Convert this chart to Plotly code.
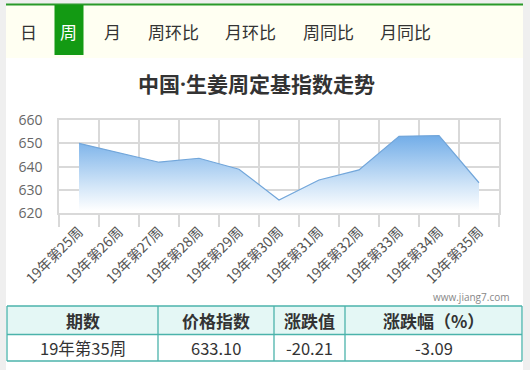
import plotly.graph_objects as go

W, H = 530, 370

tabs = ["日", "周", "月", "周环比", "月环比", "周同比", "月同比"]
tab_x = [28, 68, 112, 173, 250, 328, 405]
active_tab = 1

title_a = "中国"
title_dot = "·"
title_b = "生姜周定基指数走势"
weeks = ["19年第25周", "19年第26周", "19年第27周", "19年第28周", "19年第29周", "19年第30周",
         "19年第31周", "19年第32周", "19年第33周", "19年第34周", "19年第35周"]
values = [650.0, 646.0, 641.9, 643.6, 638.9, 625.7, 634.3, 638.6, 653.0, 653.31, 633.10]
y_ticks = [620, 630, 640, 650, 660]

table_header = ["期数", "价格指数", "涨跌值", "涨跌幅（%）"]
table_row = ["19年第35周", "633.10", "-20.21", "-3.09"]
col_edges = [7, 158, 274, 345, 522]

FONT = "Noto Sans CJK SC"
GRID = "#d9d9d9"

def px(x):
    return x / W

def py(y):
    return 1 - y / H

fig = go.Figure()
fig.add_trace(go.Scatter(
    x=weeks, y=values, mode="lines",
    line=dict(color="#72a6da", width=1.2),
    fill="tozeroy",
    fillgradient=dict(type="vertical", start=621, stop=656,
                      colorscale=[[0, "rgba(255,255,255,1)"], [0.3, "#d3e6f8"], [1, "#66a6e6"]]),
    hoverinfo="skip", showlegend=False,
))

shapes = []
annotations = []

# page background pieces
shapes.append(dict(type="rect", xref="paper", yref="paper", x0=0, x1=1, y0=0, y1=1,
                   fillcolor="#efefef", line_width=0, layer="below"))
shapes.append(dict(type="rect", xref="paper", yref="paper", x0=px(6), x1=px(523), y0=0, y1=py(4),
                   fillcolor="#ffffff", line_width=0, layer="below"))
# tab bar
shapes.append(dict(type="rect", xref="paper", yref="paper", x0=px(6), x1=px(523), y0=py(58), y1=py(5),
                   fillcolor="#fffff2", line_width=0, layer="below"))
shapes.append(dict(type="rect", xref="paper", yref="paper", x0=px(6), x1=px(523), y0=py(5.5), y1=py(3.5),
                   fillcolor="#2a9a2a", line_width=0, layer="below"))
shapes.append(dict(type="rect", xref="paper", yref="paper", x0=px(54.5), x1=px(83.5), y0=py(55), y1=py(5),
                   fillcolor="#139a13", line_width=0, layer="below"))
for i, (t, x) in enumerate(zip(tabs, tab_x)):
    annotations.append(dict(text=t, x=px(x), y=py(31), xref="paper", yref="paper",
                            showarrow=False, xanchor="center", yanchor="middle",
                            font=dict(family=FONT, size=17,
                                      color="#ffffff" if i == active_tab else "#333333")))

# title (narrow latin middle dot)
title_html = ("<b>" + title_a + "<span style='font-family:Open Sans'>" + title_dot + "</span>"
              + title_b + "</b>")
annotations.append(dict(text=title_html, x=px(256), y=py(83), xref="paper", yref="paper",
                        showarrow=False, xanchor="center", yanchor="middle",
                        font=dict(family=FONT, size=21, color="#333333")))

# watermark
annotations.append(dict(text="www.jiang7.com", x=px(511), y=py(297), xref="paper", yref="paper",
                        showarrow=False, xanchor="right", yanchor="middle",
                        font=dict(family="Open Sans", size=10, color="#888888")))

# table
t_top, t_mid, t_bot = 306, 334.5, 361
shapes.append(dict(type="rect", xref="paper", yref="paper", x0=px(col_edges[0]), x1=px(col_edges[-1]),
                   y0=py(t_mid), y1=py(t_top), fillcolor="#e4f7f5", line_width=0, layer="below"))
shapes.append(dict(type="rect", xref="paper", yref="paper", x0=px(col_edges[0]), x1=px(col_edges[-1]),
                   y0=py(t_bot), y1=py(t_mid), fillcolor="#ffffff", line_width=0, layer="below"))
tcol = "#4bb3ab"
for yy in [t_top, t_mid, t_bot]:
    shapes.append(dict(type="line", xref="paper", yref="paper", x0=px(col_edges[0]), x1=px(col_edges[-1]),
                       y0=py(yy), y1=py(yy), line=dict(color=tcol, width=1.3)))
for xx in col_edges:
    shapes.append(dict(type="line", xref="paper", yref="paper", x0=px(xx), x1=px(xx),
                       y0=py(t_top), y1=py(t_bot), line=dict(color=tcol, width=1.3)))
for i in range(4):
    cx = (col_edges[i] + col_edges[i + 1]) / 2
    annotations.append(dict(text="<b>" + table_header[i] + "</b>", x=px(cx), y=py((t_top + t_mid) / 2),
                            xref="paper", yref="paper", showarrow=False, xanchor="center", yanchor="middle",
                            font=dict(family=FONT, size=17, color="#333333")))
    annotations.append(dict(text=table_row[i], x=px(cx), y=py((t_mid + t_bot) / 2),
                            xref="paper", yref="paper", showarrow=False, xanchor="center", yanchor="middle",
                            font=dict(family=FONT, size=16.5, color="#333333")))

fig.update_layout(
    width=W, height=H,
    margin=dict(l=0, r=0, t=0, b=0, pad=0),
    paper_bgcolor="#ffffff", plot_bgcolor="rgba(0,0,0,0)",
    shapes=shapes, annotations=annotations,
    xaxis=dict(domain=[px(59), px(499)], type="category", range=[-0.5, 10.5],
               tickson="boundaries", showgrid=True, gridcolor=GRID, gridwidth=1.5,
               ticks="outside", ticklen=12, tickcolor=GRID, tickwidth=1.5,
               showline=True, linecolor=GRID, linewidth=1.5, mirror=True,
               tickangle=-45, ticklabelstandoff=3,
               tickfont=dict(family=FONT, size=14, color="#555555"),
               automargin=False, fixedrange=True),
    yaxis=dict(domain=[py(213.3), py(120)], range=[620, 660], tickvals=y_ticks,
               showgrid=True, gridcolor=GRID, gridwidth=1.5, zeroline=False,
               showline=True, linecolor=GRID, linewidth=1.5, mirror=True,
               ticks="", ticklabelstandoff=12,
               tickfont=dict(family="Open Sans", size=14, color="#666666"),
               automargin=False, fixedrange=True),
    font=dict(family=FONT),
)

fig.write_html("out.html", config={"displayModeBar": False})
